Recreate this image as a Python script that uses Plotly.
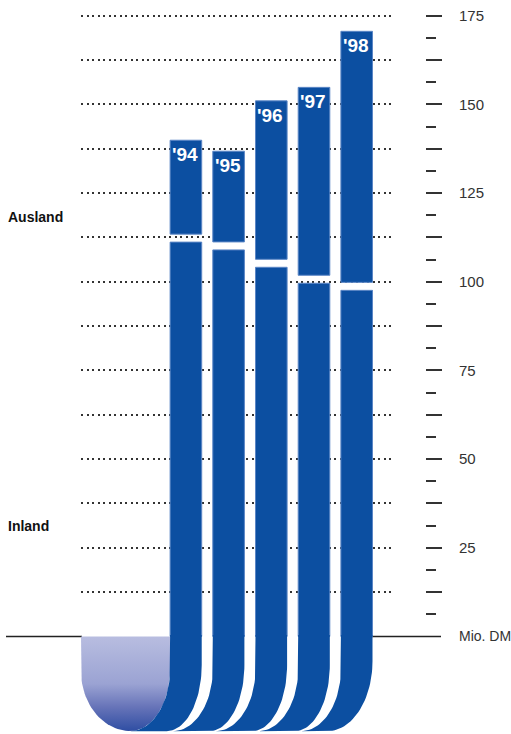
import numpy as np
import plotly.graph_objects as go

# ---- data ----
years = ["'94", "'95", "'96", "'97", "'98"]
inland = [112.3, 110.1, 105.2, 100.7, 98.7]
ausland = [27.6, 26.7, 45.8, 54.1, 71.9]
tick_values = [12.5, 25, 37.5, 50, 62.5, 75, 87.5, 100, 112.5, 125, 137.5, 150, 162.5, 175]
tick_labels = ["", "25", "", "50", "", "75", "", "100", "", "125", "", "150", "", "175"]
minor_ticks = [6.25, 18.75, 31.25, 43.75, 56.25, 68.75, 81.25, 93.75, 106.25,
               118.75, 131.25, 143.75, 156.25, 168.75]
unit_label = "Mio. DM"

# ---- styling / geometry ----
W, H = 511, 734
BLUE = "#0c4fa1"
GAP = 2.25
BAR_W = 0.74
X_RANGE = [-2.457, 4.897]
Y_RANGE = [-27.5, 179.43]
DOM = [81 / W, 395 / W]
PPX = (DOM[1] - DOM[0]) * W / (X_RANGE[1] - X_RANGE[0])
PPY = H / (Y_RANGE[1] - Y_RANGE[0])
YB = -26.7

idx = list(range(len(years)))
totals = [a + b for a, b in zip(inland, ausland)]

fig = go.Figure()


def quarter(xe, rx, ry, sx=1, n=30):
    t = np.linspace(0, np.pi / 2, n)
    cx = xe - sx * rx
    cy = YB + ry
    return cx + sx * rx * np.cos(t), cy - ry * np.sin(t)


# bowl with gradient
rxL, ryL = 40 / PPX, 62 / PPY
L0 = idx[0] - BAR_W / 2
xl = X_RANGE[0]
rxB, ryB = 50 / PPX, 60 / PPY
t = np.linspace(0, np.pi / 2, 30)
bx1 = (xl + rxB) - rxB * np.cos(t)
by1 = (YB + ryB) - ryB * np.sin(t)
lx, ly = quarter(L0, rxL, ryL)
bx = np.concatenate([[xl], bx1, lx[::-1], [L0, xl]])
by = np.concatenate([[0], by1, ly[::-1], [0, 0]])
fig.add_trace(go.Scatter(
    x=bx, y=by, mode="lines", fill="toself",
    line=dict(width=0, color="rgba(0,0,0,0)"),
    fillgradient=dict(type="vertical",
                      colorscale=[[0, "#2f4ea3"], [0.25, "#6673b8"],
                                  [0.5, "#9ba3d3"], [1, "#b8bde0"]]),
    hoverinfo="skip", showlegend=False))

# bars
fig.add_trace(go.Bar(
    x=idx, y=[v - GAP / 2 for v in inland], base=0, width=BAR_W,
    marker=dict(color=BLUE, line=dict(color="#5b86c6", width=1)),
    name="Inland", showlegend=False))
fig.add_trace(go.Bar(
    x=idx, y=[a - GAP / 2 for a in ausland], base=[v + GAP / 2 for v in inland],
    width=BAR_W,
    marker=dict(color=BLUE, line=dict(color="#5b86c6", width=1)),
    name="Ausland", showlegend=False))

# curved ribbons below the baseline
for i in idx:
    L = i - BAR_W / 2
    R = i + BAR_W / 2
    rxR = (45 if i == idx[-1] else 35) / PPX
    ryR = (70 if i == idx[-1] else 66) / PPY
    lx, ly = quarter(L, rxL, ryL)
    rx_, ry_ = quarter(R, rxR, ryR)
    px = np.concatenate([[L], lx, rx_[::-1], [R, L]])
    py = np.concatenate([[0.4], ly, ry_[::-1], [0.4, 0.4]])
    fig.add_trace(go.Scatter(
        x=px, y=py, mode="lines", fill="toself", fillcolor=BLUE,
        line=dict(width=0, color=BLUE), hoverinfo="skip", showlegend=False))

# year labels
for i, yr, tot in zip(idx, years, totals):
    fig.add_annotation(x=i, y=tot, text=yr, showarrow=False, yanchor="top",
                       xanchor="center", yshift=-2, xshift=-1,
                       font=dict(family="Liberation Sans", size=19, color="white",
                                 weight="bold"))

# left labels
fig.add_annotation(xref="paper", yref="paper", x=6 / W, y=1 - 217 / H, text="Ausland",
                   showarrow=False, xanchor="left", yanchor="middle",
                   font=dict(family="Liberation Sans", size=14, color="#111", weight="bold"))
fig.add_annotation(xref="paper", yref="paper", x=6 / W, y=1 - 526 / H, text="Inland",
                   showarrow=False, xanchor="left", yanchor="middle",
                   font=dict(family="Liberation Sans", size=14, color="#111", weight="bold"))

# unit label at zero
fig.add_annotation(xref="paper", yref="y", x=457 / W, y=0, text=unit_label,
                   showarrow=False, xanchor="left", yanchor="middle",
                   font=dict(family="Liberation Sans", size=14, color="#333"))

# baseline (left and right of the ribbons)
fig.add_shape(type="line", xref="paper", yref="y", x0=6 / W, x1=82 / W, y0=0, y1=0,
              line=dict(color="#222", width=1.5), layer="below")
fig.add_shape(type="line", xref="paper", yref="y", x0=371 / W, x1=441 / W, y0=0, y1=0,
              line=dict(color="#222", width=1.5), layer="below")

fig.update_layout(
    width=W, height=H, margin=dict(l=0, r=0, t=0, b=0, pad=0),
    paper_bgcolor="white", plot_bgcolor="white", barmode="overlay",
    showlegend=False,
    xaxis=dict(range=X_RANGE, domain=DOM, visible=False, fixedrange=True),
    yaxis=dict(range=Y_RANGE, anchor="free", position=425 / W, side="right",
               tickmode="array", tickvals=tick_values, ticktext=tick_labels,
               ticks="outside", ticklen=16, tickwidth=1.5, tickcolor="#333",
               showline=False, zeroline=False, automargin=False,
               showgrid=True, gridcolor="#333", gridwidth=1.5, griddash="2px,3.5px",
               tickfont=dict(family="Liberation Sans", size=15, color="#333"),
               ticklabelstandoff=14,
               minor=dict(tickvals=minor_ticks, ticks="outside", ticklen=10,
                          tickwidth=1.5, tickcolor="#333", showgrid=False)),
)

fig.write_html("out.html")
